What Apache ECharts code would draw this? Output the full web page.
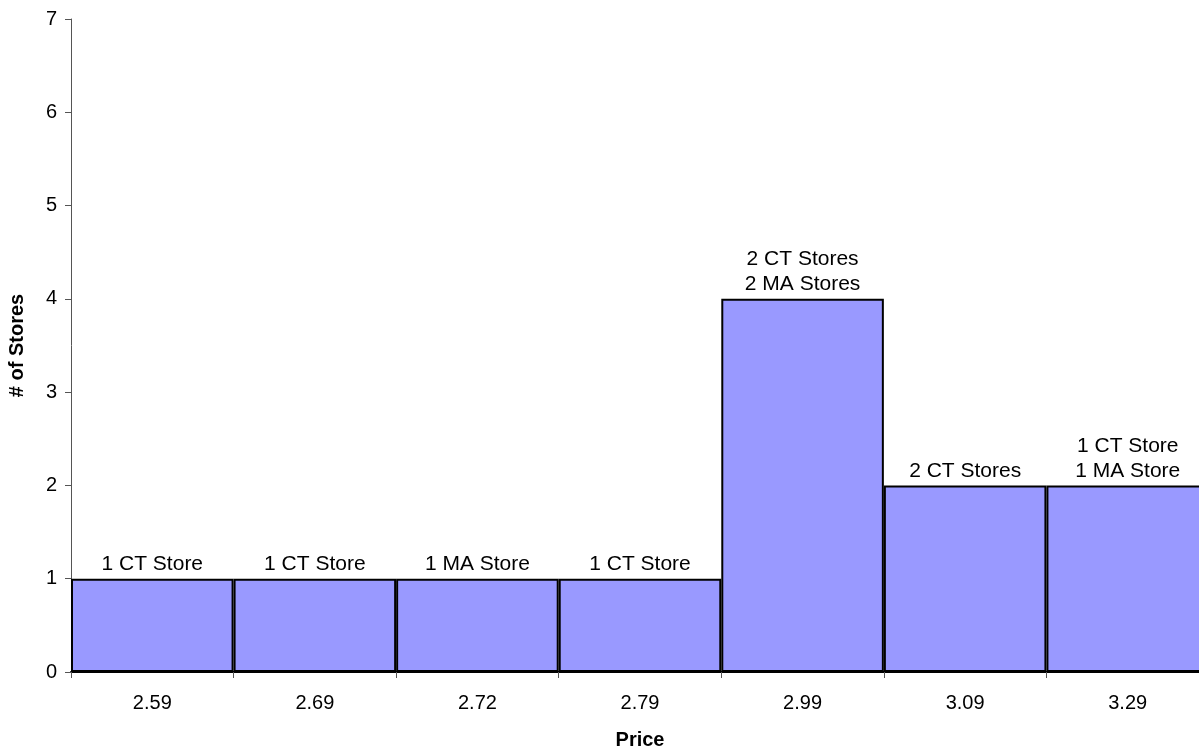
<!DOCTYPE html>
<html><head><meta charset="utf-8">
<script src="https://cdn.jsdelivr.net/npm/echarts@6/dist/echarts.min.js"></script>
<style>html,body{margin:0;padding:0;background:#fff}#c{width:1199px;height:755px}</style>
</head><body><div id="c"></div>
<script>
const categories = ['2.59','2.69','2.72','2.79','2.99','3.09','3.29'];
const storeCounts = [1,1,1,1,4,2,2];
const barLabels = ['1 CT Store','1 CT Store','1 MA Store','1 CT Store','2 CT Stores\n2 MA Stores','2 CT Stores','1 CT Store\n1 MA Store'];
const yTicks = [0,1,2,3,4,5,6,7];

const chart = echarts.init(document.getElementById('c'));
const font = 'Liberation Sans, Arial, sans-serif';
chart.setOption({
  animation:false,
  grid:{left:71,right:-10,top:19,bottom:83,containLabel:false,outerBoundsMode:'none'},
  xAxis:{type:'category',data:categories,
    name:'Price',nameLocation:'middle',nameGap:58,nameMoveOverlap:false,
    nameTextStyle:{fontFamily:font,fontSize:20,fontWeight:'bold',color:'#000'},
    axisLine:{lineStyle:{color:'#000',width:2}},
    axisTick:{show:true,length:6,lineStyle:{color:'#555'}},
    axisLabel:{fontFamily:font,fontSize:20,color:'#000',margin:21}
  },
  yAxis:{type:'value',min:yTicks[0],max:yTicks[yTicks.length-1],interval:1,
    name:'# of Stores',nameLocation:'middle',nameGap:44,nameMoveOverlap:false,
    nameTextStyle:{fontFamily:font,fontSize:20,fontWeight:'bold',color:'#000'},
    axisLine:{show:true,lineStyle:{color:'#555',width:1}},
    axisTick:{show:true,length:6,lineStyle:{color:'#555'}},
    axisLabel:{fontFamily:font,fontSize:20,color:'#000',margin:14},
    splitLine:{show:false}
  },
  series:[{type:'bar',data:storeCounts,barCategoryGap:'0%',
    itemStyle:{color:'#9999FF',borderColor:'#000',borderWidth:2},
    label:{show:true,position:'top',distance:2,fontFamily:font,fontSize:21,color:'#000',lineHeight:25,
      formatter:p=>barLabels[p.dataIndex]}
  }]
});
</script></body></html>
